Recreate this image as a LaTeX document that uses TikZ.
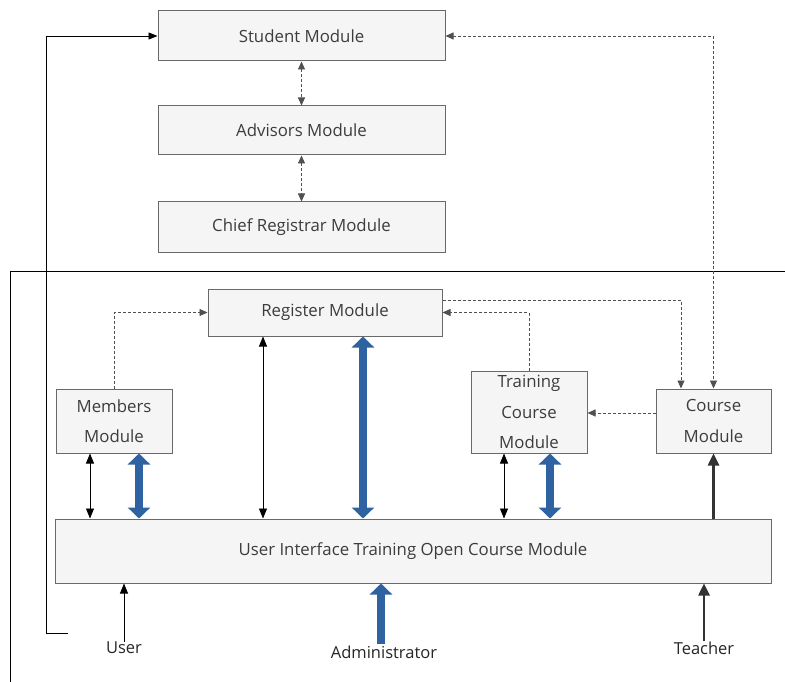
\documentclass[tikz,border=0pt]{standalone}
\usepackage{fontspec}
\setmainfont{Open Sans}
\usetikzlibrary{arrows.meta,calc}
\definecolor{boxline}{RGB}{105,105,105}
\definecolor{boxfill}{RGB}{245,245,245}
\definecolor{txt}{RGB}{60,60,60}
\definecolor{dashc}{RGB}{80,80,80}
\definecolor{bluearr}{RGB}{47,98,160}
\begin{document}
\begin{tikzpicture}[x=1pt,y=-1pt,
  box/.style={draw=boxline, fill=boxfill, line width=1pt, inner sep=0pt, align=center,
    text=txt, font=\fontsize{16.8}{30.5}\selectfont},
  lbl/.style={text=black!85, font=\fontsize{16.5}{18}\selectfont, inner sep=1pt},
  dline/.style={draw=dashc, dash pattern=on 3pt off 2pt, line width=0.8pt},
  stip/.style={-{Triangle[length=8pt,width=7pt]}},
  btip/.style={{Triangle[length=8pt,width=7pt]}-{Triangle[length=8pt,width=7pt]}},
  thin2/.style={draw=black, line width=0.8pt, {Triangle[length=10pt,width=8pt]}-{Triangle[length=10pt,width=8pt]}},
  bluedbl/.style={draw=bluearr, line width=8pt, {Triangle[length=11pt,width=22pt]}-{Triangle[length=11pt,width=22pt]}},
  bluesgl/.style={draw=bluearr, line width=8pt, -{Triangle[length=11pt,width=22pt]}},
  darksgl/.style={draw=black!80, line width=2.5pt, -{Triangle[length=12pt,width=11pt]}},
  thinsgl/.style={draw=black, line width=0.8pt, -{Triangle[length=10pt,width=8pt]}}
]
\useasboundingbox (0,0) rectangle (785,682);
\clip (0,0) rectangle (785,682);
\fill[white] (0,0) rectangle (785,682);

% outer frame (bottom and right edges lie outside the picture)
\draw[line width=0.9pt] (10,271) rectangle (800,700);

% top modules
\node[box, minimum width=287pt, minimum height=50pt] (student) at (301.5,36) {Student Module};
\node[box, minimum width=287pt, minimum height=49pt] (advisor) at (301.5,130.5) {Advisors Module};
\node[box, minimum width=287pt, minimum height=50pt] (chief) at (301.5,227) {Chief Registrar Module};

% inner modules
\node[box, minimum width=234pt, minimum height=47pt] (register) at (325,312.5) {Register Module};
\node[box, minimum width=116pt, minimum height=64pt] (members) at (114,421) {Members\\Module};
\node[box, minimum width=116pt, minimum height=82pt] (training) at (529,412) {Training\\Course\\Module};
\node[box, minimum width=115pt, minimum height=64pt] (course) at (713.5,421) {Course\\Module};
\node[box, minimum width=716pt, minimum height=64pt] (ui) at (413,551) {User Interface Training Open Course Module};

% actor labels
\node[lbl] (user) at (124,648) {User};
\node[lbl] (admin) at (384,652) {Administrator};
\node[lbl] (teacher) at (704,648) {Teacher};

% helper coordinates
\coordinate (x90) at (90,0);
\coordinate (x139) at (139,0);
\coordinate (x263) at (263,0);
\coordinate (x363) at (363,0);
\coordinate (x381) at (381,0);
\coordinate (x504) at (504,0);
\coordinate (x550) at (550,0);
\coordinate (x681) at (681,0);
\coordinate (y300) at (0,300);
\coordinate (y413) at (0,413);
\coordinate (fb) at (68,633);

% dashed connectors
\draw[dline, btip] (student) -- (advisor);
\draw[dline, btip] (advisor) -- (chief);
\draw[dline, btip] (student.east) -| (course.north);
\draw[dline, stip] (register.east |- y300) -| (x681 |- course.north);
\draw[dline, stip] (training.north) |- (register.east);
\draw[dline, stip] (members.north) |- (register.west);
\draw[dline, stip] (course.west |- y413) -- (training.east |- y413);

% feedback line
\draw[line width=0.9pt, -{Triangle[length=9pt,width=7pt]}] (fb) -- ++(-22,0) |- (student.west);

% vertical links
\draw[thin2] (members.south -| x90) -- (ui.north -| x90);
\draw[bluedbl] (members.south -| x139) -- (ui.north -| x139);
\draw[thin2] (register.south -| x263) -- (ui.north -| x263);
\draw[bluedbl] (register.south -| x363) -- (ui.north -| x363);
\draw[thin2] (training.south -| x504) -- (ui.north -| x504);
\draw[bluedbl] (training.south -| x550) -- (ui.north -| x550);
\draw[darksgl] (ui.north -| course.south) -- (course.south);

% actors
\draw[thinsgl] ([yshift=-1pt]user.north) -- (ui.south -| user);
\draw[bluesgl] (admin.north -| x381) -- (ui.south -| x381);
\draw[darksgl] ([yshift=-1pt]teacher.north) -- (ui.south -| teacher);
\end{tikzpicture}
\end{document}
